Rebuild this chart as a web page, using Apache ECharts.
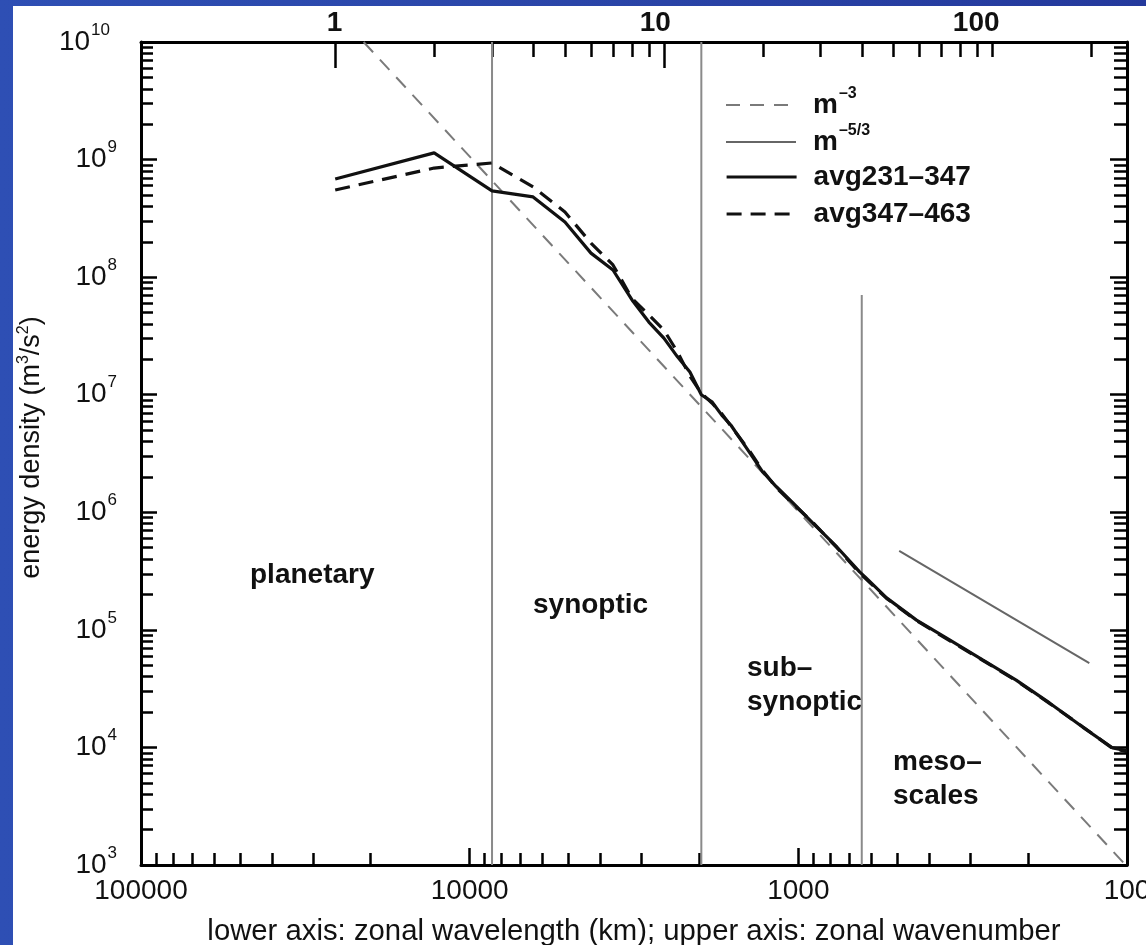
<!DOCTYPE html>
<html><head><meta charset="utf-8">
<script src="https://cdn.jsdelivr.net/npm/echarts@6/dist/echarts.min.js"></script>
<style>
html,body{margin:0;padding:0;width:1146px;height:945px;overflow:hidden;background:linear-gradient(90deg,#2e4fb4,#2a45a8 50%,#24399c);}
#chart{position:absolute;left:13px;top:6px;width:1133px;height:939px;background:#fff;}
</style></head><body><div id="chart"></div>
<script>
// ---- data (zonal wavenumber, energy density m^3/s^2) ----
const wavenumberA = [1,2,3,4,5,6,7,8,9,10,11,12,13,14,15,16,18,20,22,24.7,28.4,33.6,39.4,41,47.6,58.7,74,93.3,118,149,188,232,256];
const energyA = [6.84e8,1.14e9,5.41e8,4.81e8,2.94e8,1.60e8,1.15e8,6.4e7,4.15e7,3.03e7,2.10e7,1.56e7,1.0e7,8.7e6,6.7e6,5.5e6,3.4e6,2.2e6,1.65e6,1.2e6,8.1e5,5.07e5,3.11e5,2.81e5,1.87e5,1.21e5,8.2e4,5.55e4,3.74e4,2.39e4,1.49e4,9.9e3,9.4e3];
const wavenumberB = [1,2,3,4,5,6,7,8,9,10,11,12,13,14,15,16,18,20,22,24.7,28.4,33.6,39.4,47.6,58.7,74,93.3,118,149,188,232,256];
const energyB = [5.51e8,8.47e8,9.36e8,5.85e8,3.58e8,1.95e8,1.27e8,6.6e7,4.77e7,3.55e7,2.31e7,1.44e7,1.03e7,8.5e6,6.9e6,5.4e6,3.5e6,2.25e6,1.62e6,1.18e6,8.2e5,5.0e5,3.05e5,1.85e5,1.2e5,8.1e4,5.5e4,3.7e4,2.37e4,1.5e4,9.8e3,9.2e3];
const slope3K = [1.22, 254];
const slope3E = [1e10, 1e3];
const slope53K = [52, 197];
const slope53E = [4.69e5, 5.22e4];
const dividerK = [3, 13, 40];
const dividerTopE = [1e10, 1e10, 7.05e7];
const dividerBottomE = [1e3, 1e3, 1e3];
const seriesNames = ['m^-3', 'm^-5/3', 'avg231\u2013347', 'avg347\u2013463'];
const yMajorTicks = [1e3,1e4,1e5,1e6,1e7,1e8,1e9,1e10];
const lowerMajorTicks = [100,1000,10000,100000];
const upperLabelTicks = [1,10,100];
const upperLongTicks = [1,10];
const regionTexts = ['planetary', 'synoptic', 'sub\u2013\nsynoptic', 'meso\u2013\nscales'];

// ---- tick helpers ----
function minorTicks(decadeStart, decadeEnd, extraMax) {
  const out = [];
  for (let d = decadeStart; d <= decadeEnd; d++)
    for (let m = 2; m <= 9; m++) {
      const v = +(m * Math.pow(10, d)).toPrecision(6);
      if (extraMax === undefined || v <= extraMax) out.push(v);
    }
  return out;
}
const yMinor = minorTicks(3, 9);
const lowerMinor = minorTicks(2, 4);
const upperMinor = minorTicks(0, 2, 256).concat([100]);

const FONT = '"Liberation Sans", Arial, Helvetica, sans-serif';
const chart = echarts.init(document.getElementById('chart'), null, {renderer: 'canvas'});

const K_MIN = 0.2565, K_MAX = 256.5;
const grid = {left: 128, right: 19, top: 36, bottom: 80, containLabel: false, outerBoundsMode: 'none'};
// top labels sit right-aligned just past their tick (style offset, in log factor)
const TOP_LABEL_SHIFT = Math.pow(10, 7 / 329);

function yLabel(v) {
  const e = Math.round(Math.log10(v));
  return '{b|10}{s|' + e + '}' + (e >= 10 ? '{p|}' : '');
}
const yRich = {
  b: {fontSize: 28, fontFamily: FONT, color: '#111', lineHeight: 34},
  s: {fontSize: 17, fontFamily: FONT, color: '#111', lineHeight: 34, padding: [0, 0, 24, 1]},
  p: {width: 7, lineHeight: 34}
};

const lineAxis = {show: true, lineStyle: {color: '#000', width: 3}};

const xAxes = [
  { // bottom: wavelength, labels + long ticks
    type: 'log', position: 'bottom', inverse: true, min: 100, max: 100000,
    axisLine: lineAxis,
    axisTick: {show: true, inside: true, length: 17, lineStyle: {color: '#000', width: 2.5}, customValues: lowerMajorTicks},
    axisLabel: {show: true, customValues: lowerMajorTicks, margin: 12, fontSize: 28, fontFamily: FONT, color: '#111',
      formatter: v => String(Math.round(v))},
    splitLine: {show: false},
    name: 'lower axis: zonal wavelength (km); upper axis: zonal wavenumber',
    nameLocation: 'middle', nameGap: 52,
    nameTextStyle: {fontSize: 29.3, fontFamily: FONT, color: '#111'}
  },
  { // bottom minor ticks
    type: 'log', position: 'bottom', inverse: true, min: 100, max: 100000,
    axisLine: {show: false},
    axisTick: {show: true, inside: true, length: 12, lineStyle: {color: '#000', width: 2.5}, customValues: lowerMinor},
    axisLabel: {show: false}, splitLine: {show: false}
  },
  { // top: wavenumber long ticks (data axis)
    type: 'log', position: 'top', min: K_MIN, max: K_MAX,
    axisLine: lineAxis,
    axisTick: {show: true, inside: true, length: 26, lineStyle: {color: '#000', width: 2.5}, customValues: upperLongTicks},
    axisLabel: {show: true, customValues: upperLabelTicks.map(v => v * TOP_LABEL_SHIFT), align: 'right', margin: 5,
      fontSize: 28, fontWeight: 'bold', fontFamily: FONT, color: '#111',
      formatter: v => String(Math.pow(10, Math.floor(Math.log10(v) + 1e-9)))},
    splitLine: {show: false}
  },
  { // top minor ticks
    type: 'log', position: 'top', min: K_MIN, max: K_MAX,
    axisLine: {show: false},
    axisTick: {show: true, inside: true, length: 15, lineStyle: {color: '#000', width: 2.5}, customValues: upperMinor},
    axisLabel: {show: false}, splitLine: {show: false}
  }
];

const yAxes = [
  {
    type: 'log', position: 'left', min: 1e3, max: 1e10,
    axisLine: lineAxis,
    axisTick: {show: true, inside: true, length: 16, lineStyle: {color: '#000', width: 2.5}, customValues: yMajorTicks},
    axisLabel: {show: true, customValues: yMajorTicks, margin: 24, formatter: yLabel, rich: yRich},
    splitLine: {show: false},
    name: '{t|energy density (m}{u|3}{t|/s}{u|2}{t|)}',
    nameLocation: 'middle', nameGap: 83,
    nameTextStyle: {padding: [0, 0, 0, 12], rich: {
      t: {fontSize: 27, fontFamily: FONT, color: '#111', lineHeight: 28},
      u: {fontSize: 16, fontFamily: FONT, color: '#111', lineHeight: 20, padding: [0, 0, 16, 0]}
    }}
  },
  {
    type: 'log', position: 'left', min: 1e3, max: 1e10,
    axisLine: {show: false},
    axisTick: {show: true, inside: true, length: 12, lineStyle: {color: '#000', width: 2.5}, customValues: yMinor},
    axisLabel: {show: false}, splitLine: {show: false}
  },
  {
    type: 'log', position: 'right', min: 1e3, max: 1e10,
    axisLine: lineAxis,
    axisTick: {show: true, inside: true, length: 17, lineStyle: {color: '#000', width: 2.5}, customValues: yMajorTicks},
    axisLabel: {show: false}, splitLine: {show: false}
  },
  {
    type: 'log', position: 'right', min: 1e3, max: 1e10,
    axisLine: {show: false},
    axisTick: {show: true, inside: true, length: 13, lineStyle: {color: '#000', width: 2.5}, customValues: yMinor},
    axisLabel: {show: false}, splitLine: {show: false}
  }
];

function pairs(xs, ys) { return xs.map((x, i) => [x, ys[i]]); }

const series = [];
dividerK.forEach((k, i) => {
  series.push({
    type: 'line', name: 'divider' + i, xAxisIndex: 2, yAxisIndex: 0,
    data: [[k, dividerBottomE[i]], [k, dividerTopE[i]]],
    symbol: 'none', silent: true, z: 1,
    lineStyle: {color: '#8a8a8a', width: 2}, itemStyle: {color: '#8a8a8a'}
  });
});
const lineStyles = [
  {color: '#7a7a7a', width: 2, type: [14, 10]},
  {color: '#666', width: 2},
  {color: '#111', width: 3.2},
  {color: '#111', width: 3.2, type: [15, 9]}
];
const seriesData = [pairs(slope3K, slope3E), pairs(slope53K, slope53E), pairs(wavenumberA, energyA), pairs(wavenumberB, energyB)];
const seriesZ = [2, 2, 4, 3];
seriesNames.forEach((n, i) => {
  series.push({
    type: 'line', name: n, xAxisIndex: 2, yAxisIndex: 0,
    data: seriesData[i], symbol: 'none', silent: true, z: seriesZ[i],
    lineStyle: lineStyles[i], itemStyle: {color: lineStyles[i].color}
  });
});

function legendFmt(name) {
  if (name.indexOf('m^') === 0) return '{b|m}{s|' + name.slice(2).replace('-', '\u2013') + '}';
  return '{b|' + name + '}';
}
const legendRich = {
  b: {fontSize: 28, fontWeight: 'bold', fontFamily: FONT, color: '#111', lineHeight: 34},
  s: {fontSize: 16, fontWeight: 'bold', fontFamily: FONT, color: '#111', lineHeight: 34, padding: [0, 0, 22, 1]}
};
const legendTops = [80, 117, 157, 194];
const legendLineW = [2, 2, 3.2, 3.2];
const legends = seriesNames.map((n, i) => ({
  data: [n], left: 712, top: legendTops[i], orient: 'vertical', selectedMode: false,
  itemWidth: 70, itemHeight: 14, padding: 0,
  itemStyle: {opacity: 0, color: 'rgba(0,0,0,0)', borderWidth: 0},
  lineStyle: {width: legendLineW[i]},
  formatter: legendFmt, textStyle: {rich: legendRich, padding: [0, 0, 0, 12]}
}));

// region annotations (pixel positions relative to chart div)
const regionPos = [[237, 567], [520, 597], [734, 660], [880, 754]];
const graphics = regionTexts.map((t, i) => ({
  type: 'text', left: regionPos[i][0], top: regionPos[i][1] - 15, silent: true,
  style: {text: t, font: 'bold 28px ' + FONT, fill: '#111', lineHeight: 34}
}));

chart.setOption({
  animation: false,
  backgroundColor: '#fff',
  grid: grid,
  xAxis: xAxes,
  yAxis: yAxes,
  legend: legends,
  graphic: graphics,
  series: series
});
</script></body></html>
